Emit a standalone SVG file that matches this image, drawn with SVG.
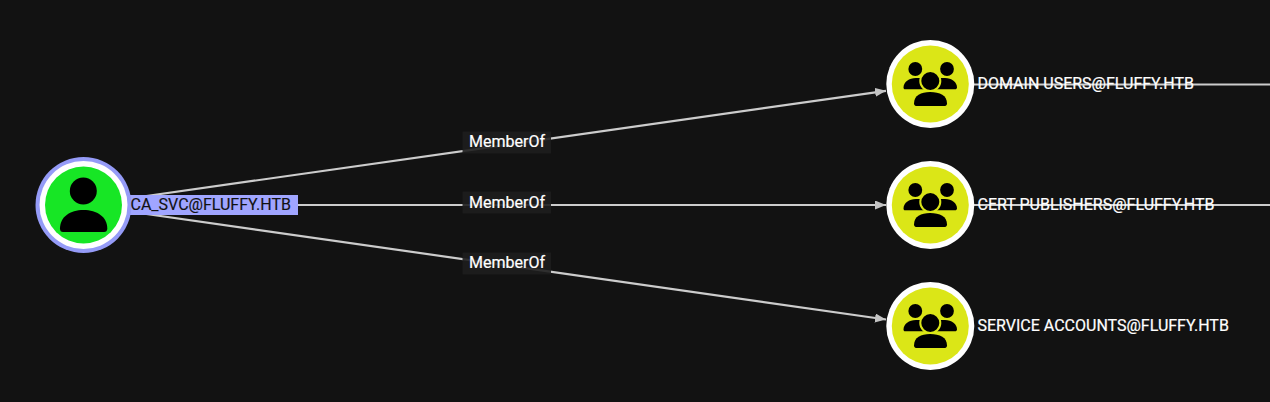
<svg xmlns="http://www.w3.org/2000/svg" width="1270" height="402" viewBox="0 0 1270 402">
<style>
text{font-family:Roboto,"Liberation Sans",sans-serif;font-size:16px}
.edge{stroke:#cccccc;stroke-width:2.200;fill:none}
.lb{fill:#1e1e1e;fill-opacity:.9}
.lt{fill:#fff;stroke:#fff;stroke-width:.2}
.nl{fill:#fff;stroke:#fff;stroke-width:.2}
.ring{fill:#fff}
.gf{fill:#dbe617}
.k{fill:#000}
</style>
<defs>
<marker id="arr" markerUnits="userSpaceOnUse" markerWidth="12" markerHeight="10" refX="11" refY="4.500" orient="auto"><path d="M0 0L11 4.500L0 9Z" fill="#c4c4c4"/></marker>
<g id="grp">
<circle class="k" cx="-14.700" cy="-15" r="6.900"/>
<circle class="k" cx="17" cy="-15" r="6.900"/>
<path class="k" d="M-26.500 3.500C-26.500-2 -21-6 -14-6L-6-6V5.300H-25C-26 5.300 -26.500 4.500 -26.500 3.500Z"/>
<path class="k" d="M27 3.500C27-2 21.500-6 15-6L7-6V5.300H25C26 5.300 27 4.500 27 3.500Z"/>
<circle class="k" cx="0.300" cy="-3" r="10" stroke="#dbe617" stroke-width="2"/>
<path class="k" d="M-16 19.500C-16 11.500 -9 8 0 8C10 8 17 11.500 17 19.500C17 21 16 22 15 22H-14C-15 22 -16 21 -16 19.500Z"/>
</g>
</defs>
<rect width="1270" height="402" fill="#121212"/>
<g id="connectors">
<path class="edge" d="M83.500 205L886 90.800" marker-end="url(#arr)"/>
<path class="edge" d="M83.500 205H886" marker-end="url(#arr)"/>
<path class="edge" d="M83.500 205L886 319.500" marker-end="url(#arr)"/>
<path class="edge" d="M930 84.500H1270"/>
<path class="edge" d="M930 205H1270"/>
<g id="edge-label-1"><rect class="lb" x="462.500" y="131.500" width="88.500" height="22"/><text class="lt" x="469" y="147">MemberOf</text></g>
<g id="edge-label-2"><rect class="lb" x="462.500" y="191.500" width="88.500" height="22"/><text class="lt" x="469" y="208">MemberOf</text></g>
<g id="edge-label-3"><rect class="lb" x="462.500" y="252.500" width="88.500" height="22"/><text class="lt" x="469" y="268">MemberOf</text></g>
</g>
<g id="node-ca-svc">
<rect x="130" y="195" width="168" height="20" fill="#a0a5ff"/>
<circle cx="83.500" cy="205" r="48" fill="#959bf7"/>
<circle class="ring" cx="83.500" cy="205" r="44"/>
<circle cx="83.500" cy="205" r="38.500" fill="#17e625"/>
<circle class="k" cx="83.300" cy="191" r="13.500"/>
<path class="k" d="M60 228.500C60 217 70 210 83.500 210C97 210 107.300 217 107.300 228.500C107.300 231 106 232 104 232H63C61 232 60 231 60 228.500Z"/>
<text x="130.500" y="210" fill="#111" stroke="#111" stroke-width=".15">CA_SVC@FLUFFY.HTB</text>
</g>
<g id="node-domain-users">
<circle class="ring" cx="930.300" cy="84" r="44"/>
<circle class="gf" cx="930.300" cy="84" r="38.500"/>
<use href="#grp" x="930" y="84"/>
<text class="nl" x="977.500" y="89">DOMAIN USERS@FLUFFY.HTB</text>
</g>
<g id="node-cert-publishers">
<circle class="ring" cx="930.300" cy="205" r="44"/>
<circle class="gf" cx="930.300" cy="205" r="38.500"/>
<use href="#grp" x="930" y="205"/>
<text class="nl" x="977.500" y="210">CERT PUBLISHERS@FLUFFY.HTB</text>
</g>
<g id="node-service-accounts">
<circle class="ring" cx="930.300" cy="326" r="44"/>
<circle class="gf" cx="930.300" cy="326" r="38.500"/>
<use href="#grp" x="930" y="326"/>
<text class="nl" x="977.500" y="331">SERVICE ACCOUNTS@FLUFFY.HTB</text>
</g>
</svg>
